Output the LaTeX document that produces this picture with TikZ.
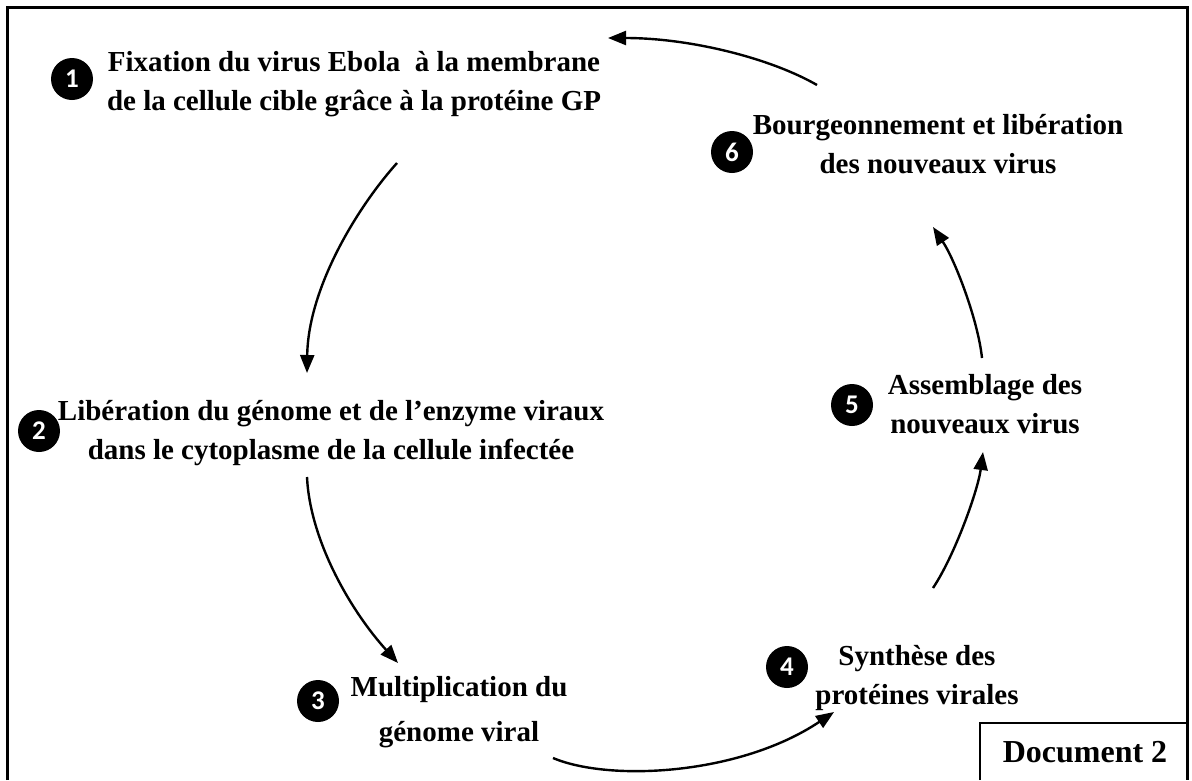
\documentclass[tikz,border=0pt]{standalone}
\usepackage{fontspec}
\setmainfont{Liberation Serif}
\newfontfamily\numfont{Carlito}
\usetikzlibrary{arrows.meta}
\begin{document}
\begin{tikzpicture}[x=1pt,y=-1pt,
  etape/.style={align=center,inner sep=0pt,font=\fontsize{29}{39}\selectfont\bfseries},
  numero/.style={circle,fill=black,text=white,minimum size=42pt,inner sep=0pt,font=\fontsize{27}{27}\selectfont\numfont\bfseries},
  fleche/.style={line width=2.4pt,-{Triangle[length=18pt,width=14pt]}}]
\useasboundingbox (0,0) rectangle (1192,780);
\draw[line width=3pt] (7,780) -- (7,7) -- (1187,7) -- (1187,780);
\node[etape] (t1) at (354,84) {Fixation du virus Ebola\ \ à la membrane\\de la cellule cible grâce à la protéine GP};
\node[etape] (t2) at (331,433) {Libération du génome et de l’enzyme viraux\\dans le cytoplasme de la cellule infectée};
\node[etape] (t3) at (459,712) {Multiplication du\\[6pt]génome viral};
\node[etape] (t4) at (917,678) {Synthèse des\\protéines virales};
\node[etape] (t5) at (985,404) {Assemblage des\\nouveaux virus};
\node[etape] (t6) at (938,144) {Bourgeonnement et libération\\des nouveaux virus};
\node[numero] (n1) at (72,79) {1};
\node[numero] (n2) at (39,431) {2};
\node[numero] (n3) at (318,701) {3};
\node[numero] (n4) at (787,667) {4};
\node[numero] (n5) at (852,405) {5};
\node[numero] (n6) at (732,152) {6};
\draw[line width=1.8pt] (980,780) -- (980,723) -- (1187,723);
\node[etape,font=\fontsize{32}{38}\selectfont\bfseries] (doc) at (1085,752) {Document 2};
\draw[fleche] ([shift={(-121,-59)}]t6.center) .. controls (770,58) and (690,38) .. ([shift={(254,-46)}]t1.center);
\draw[fleche] ([shift={(43,79)}]t1.center) .. controls (355,210) and (308,290) .. ([shift={(-24,-60)}]t2.center);
\draw[fleche] ([shift={(-24,44)}]t2.center) .. controls (310,540) and (350,610) .. ([shift={(-61,-49)}]t3.center);
\draw[fleche] ([shift={(94,46)}]t3.center) .. controls (610,782) and (740,775) .. ([shift={(-83,34)}]t4.center);
\draw[fleche] ([shift={(16,-90)}]t4.center) .. controls (955,555) and (978,490) .. ([shift={(-2,48)}]t5.center);
\draw[fleche] ([shift={(-3,-46)}]t5.center) .. controls (978,320) and (955,260) .. ([shift={(-5,83)}]t6.center);
\end{tikzpicture}
\end{document}
